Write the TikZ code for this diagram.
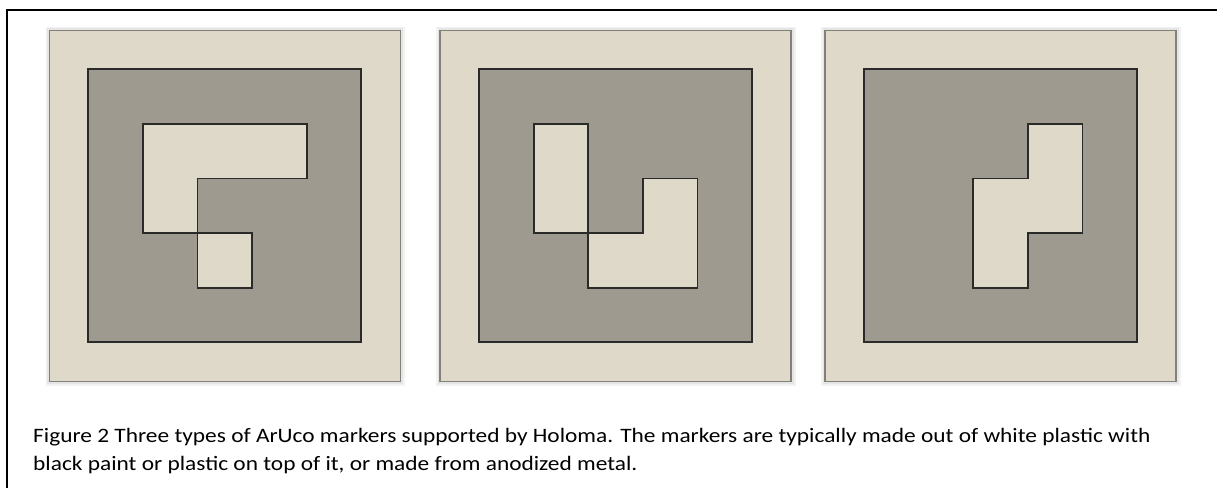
\documentclass[tikz,border=0pt]{standalone}
\usepackage{fontspec}
\setmainfont{Carlito}
\definecolor{mlight}{HTML}{DFD9C9}
\definecolor{mdark}{HTML}{9E9A8F}
\definecolor{medge}{HTML}{828079}
\definecolor{mline}{HTML}{2A2A28}
\tikzset{
  frameline/.style={draw=black, line width=2pt},
  outersq/.style={fill=mlight, draw=medge, line width=1.4pt},
  innersq/.style={fill=mdark, draw=mline, line width=1.8pt, line join=miter},
  whitecell/.style={fill=mlight, draw=mline, line width=1.8pt, line join=miter},
  shadowsq/.style={fill=black, opacity=0.05},
  captext/.style={font=\fontsize{20.5pt}{26pt}\selectfont, inner sep=0pt, anchor=base west, xscale=1.14, transform shape}
}
\begin{document}
\begin{tikzpicture}[x=1pt, y=-1pt]
\useasboundingbox (0,0) rectangle (1217,488);
\fill[white] (0,0) rectangle (1217,488);
% frame (left and top edges only visible)
\draw[frameline] (7,488) -- (7,9.5) -- (1217,9.5);

% marker 1
\begin{scope}[shift={(88.3,69.3)}, x=54.6pt, y=-54.6pt]
  \fill[shadowsq] (-0.78,-0.78) rectangle (5.8,5.8);
  \fill[shadowsq] (-0.75,-0.75) rectangle (5.76,5.76);
  \filldraw[outersq] (-0.714,-0.714) rectangle (5.714,5.714);
  \filldraw[innersq] (0,0) rectangle (5,5);
  \filldraw[whitecell] (1,1) -- (4,1) -- (4,2) -- (2,2) -- (2,3) -- (1,3) -- cycle;
  \filldraw[whitecell] (2,3) rectangle (3,4);
\end{scope}

% marker 2
\begin{scope}[shift={(479,69.3)}, x=54.6pt, y=-54.6pt]
  \fill[shadowsq] (-0.78,-0.78) rectangle (5.8,5.8);
  \fill[shadowsq] (-0.75,-0.75) rectangle (5.76,5.76);
  \filldraw[outersq] (-0.714,-0.714) rectangle (5.714,5.714);
  \filldraw[innersq] (0,0) rectangle (5,5);
  \filldraw[whitecell] (1,1) rectangle (2,3);
  \filldraw[whitecell] (3,2) -- (4,2) -- (4,4) -- (2,4) -- (2,3) -- (3,3) -- cycle;
\end{scope}

% marker 3
\begin{scope}[shift={(864,69.3)}, x=54.6pt, y=-54.6pt]
  \fill[shadowsq] (-0.78,-0.78) rectangle (5.8,5.8);
  \fill[shadowsq] (-0.75,-0.75) rectangle (5.76,5.76);
  \filldraw[outersq] (-0.714,-0.714) rectangle (5.714,5.714);
  \filldraw[innersq] (0,0) rectangle (5,5);
  \filldraw[whitecell] (3,1) -- (4,1) -- (4,3) -- (3,3) -- (3,4) -- (2,4) -- (2,2) -- (3,2) -- cycle;
\end{scope}

% caption
\node[captext] (cap1) at (33,442) {Figure 2 Three types of ArUco markers supported by Holoma. The markers are typically made out of white plastic with};
\node[captext] (cap2) at (33,470) {black paint or plastic on top of it, or made from anodized metal.};
\end{tikzpicture}
\end{document}
